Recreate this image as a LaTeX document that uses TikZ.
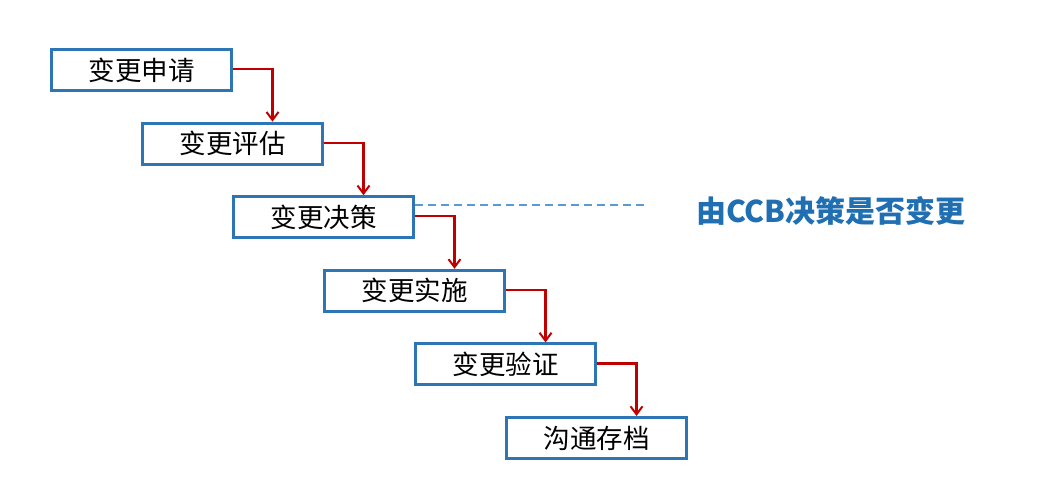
\documentclass[tikz,border=0pt]{standalone}
\usepackage{fontspec}
\setmainfont{Noto Sans CJK SC}
\usetikzlibrary{arrows.meta}
\definecolor{boxblue}{HTML}{2E75B6}
\definecolor{dashblue}{HTML}{5B9BD5}
\definecolor{labelblue}{HTML}{1F6FB2}
\definecolor{arrowred}{HTML}{C00000}
\tikzset{
  stepbox/.style={draw=boxblue, line width=3pt, fill=white, minimum width=180pt, minimum height=41pt, inner sep=0pt, font=\fontsize{26.5}{28}\selectfont},
  flow/.style={draw=arrowred, line width=2.2pt, -{Straight Barb[length=8pt,width=12pt,line width=2pt]}},
}
\begin{document}
\begin{tikzpicture}[x=1pt,y=-1pt]
\useasboundingbox (0,0) rectangle (1059,488);
\foreach \i/\t/\n in {0/变更申请/b1,1/变更评估/b2,2/变更决策/b3,3/变更实施/b4,4/变更验证/b5,5/沟通存档/b6}{
  \node[stepbox] (\n) at ({141.5+91*\i},{70+73.6*\i}) {\t};
}
\foreach \a/\b in {b1/b2,b2/b3,b3/b4,b4/b5,b5/b6}{
  \coordinate (\a-t) at ([xshift=40pt]\b.north);
  \draw[flow] ([yshift=1pt]\a.east) -| (\a-t);
}
\node[font=\fontsize{30}{32}\selectfont\bfseries, text=labelblue, anchor=west, inner sep=0pt] (lab) at (696,211) {由CCB决策是否变更};
\coordinate (dstart) at ([yshift=12.5pt]b3.east);
\coordinate (dx) at (648,0);
\draw[dashblue, line width=2pt, dash pattern=on 8pt off 5pt] (dstart) -- (dstart -| dx);
\end{tikzpicture}
\end{document}
